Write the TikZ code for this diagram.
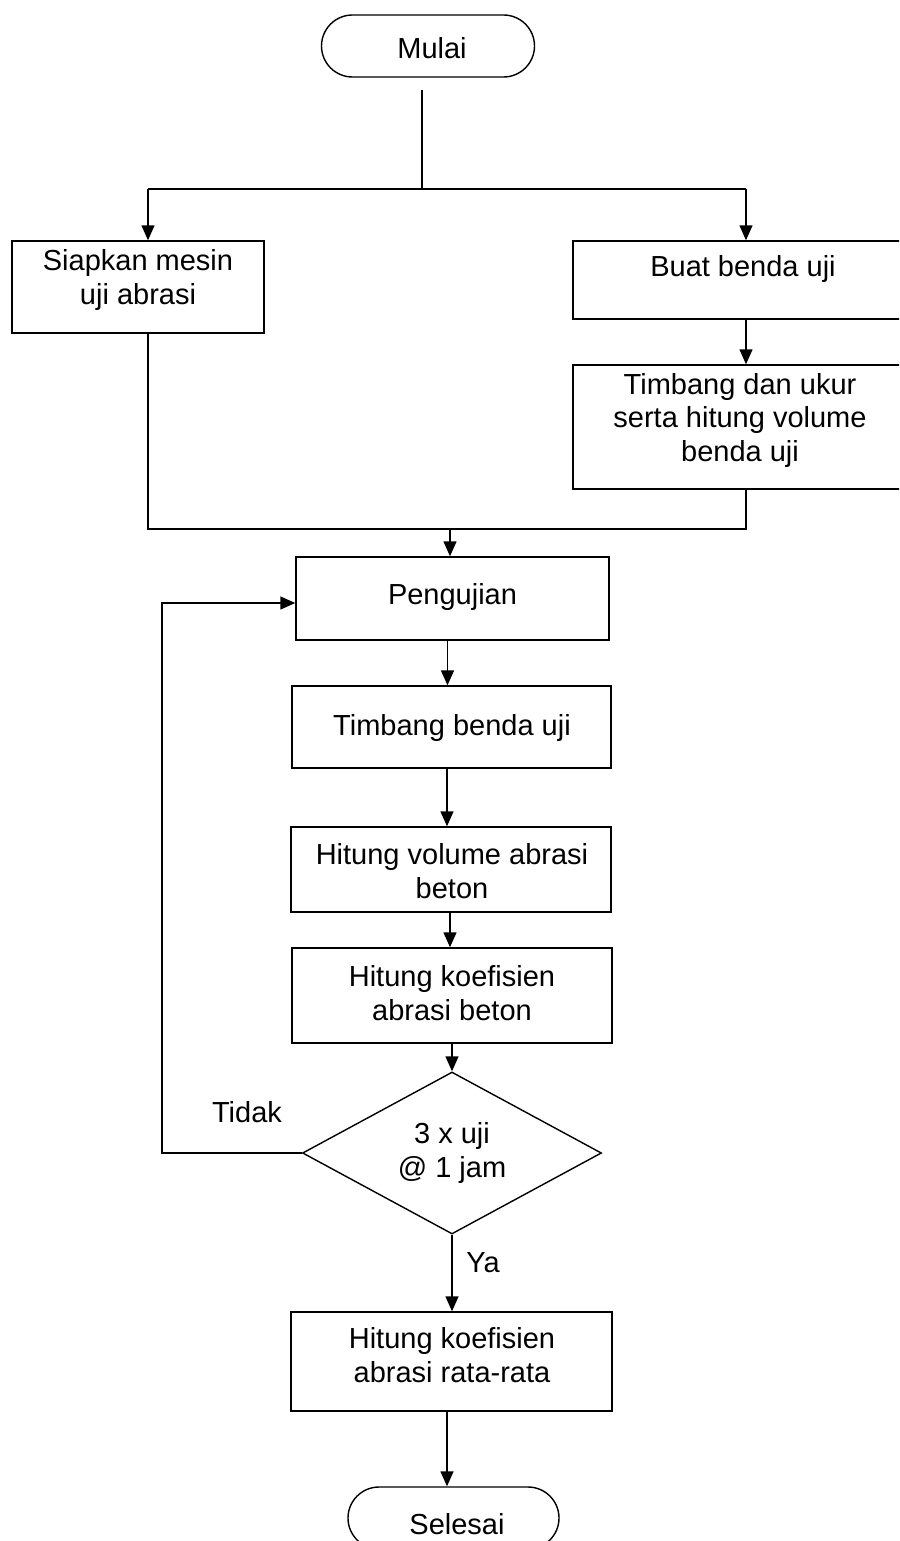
\documentclass[tikz,border=0pt]{standalone}
\usepackage{fontspec}
\setmainfont{Liberation Sans}
\usetikzlibrary{arrows.meta,shapes.geometric,calc}
\begin{document}
\begin{tikzpicture}[x=1pt,y=-1pt,
  font=\fontsize{29}{33.5}\selectfont,
  line width=1.4pt,
  boxshape/.style={draw, rectangle, inner sep=0pt},
  term/.style={draw, rectangle, rounded corners=31pt, minimum width=213pt, minimum height=62pt, inner sep=0pt},
  txt/.style={align=center, inner sep=0pt},
  decision/.style={draw, diamond, aspect=1.85, minimum width=299pt, minimum height=162pt, inner sep=0pt, align=center},
  arr/.style={-{Triangle[length=15pt,width=13pt]}},
  lbl/.style={inner sep=0pt}
]
\useasboundingbox (0,0) rectangle (899,1541);
\clip (0,0) rectangle (899,1541);

% terminals
\node[term] (mulai) at (428,46) {};
\node[txt] (mulait) at (432,48) {Mulai};
\node[term, minimum width=211pt] (selesai) at (453.5,1518) {};
\node[txt] (selesait) at (457,1524) {Selesai};

% boxes
\node[boxshape, minimum width=252pt, minimum height=92pt] (siap) at (138,287) {};
\node[txt] (siapt) at (138,280) {Siapkan mesin\\uji abrasi};

\node[boxshape, minimum width=340pt, minimum height=78pt] (buat) at (743,280) {};
\node[txt] (buatt) at (743,269) {Buat benda uji};

\node[boxshape, minimum width=340pt, minimum height=124pt] (timb1) at (743,427) {};
\node[txt] (timb1t) at (740,420) {Timbang dan ukur\\serta hitung volume\\benda uji};

\node[boxshape, minimum width=313pt, minimum height=83pt] (peng) at (452.5,598.5) {};
\node[txt] (pengt) at (452.5,597) {Pengujian};

\node[boxshape, minimum width=319pt, minimum height=82pt] (timb2) at (451.5,727) {};
\node[txt] (timb2t) at (452,728) {Timbang benda uji};

\node[boxshape, minimum width=320pt, minimum height=85pt] (hvol) at (451,869.5) {};
\node[txt] (hvolt) at (452,871) {Hitung volume abrasi\\beton};

\node[boxshape, minimum width=320pt, minimum height=95pt] (hkoef) at (452,995.5) {};
\node[txt] (hkoeft) at (452,993) {Hitung koefisien\\abrasi beton};

\node[decision] (dia) at (452,1153) {3 x uji\\@ 1 jam};

\node[boxshape, minimum width=321pt, minimum height=99pt] (final) at (451.5,1361.5) {};
\node[txt] (finalt) at (452,1355) {Hitung koefisien\\abrasi rata-rata};

% labels
\node[lbl] (tidak) at (247,1112) {Tidak};
\node[lbl] (ya) at (483,1263) {Ya};

% junctions
\coordinate (j1) at (422,189);
\coordinate (jl) at (148,189);
\coordinate (jr) at (746,189);
\coordinate (jm) at (450,529);
\coordinate (lp) at (162,1153);

% connectors
\draw ([xshift=-6pt,yshift=-12pt]mulai.south) -- (j1);
\draw (jl) -- (jr);
\draw[arr] (jl) -- (jl |- siap.north);
\draw[arr] (jr) -- (jr |- buat.north);
\draw[arr] (jr |- buat.south) -- (jr |- timb1.north);
\draw (jl |- siap.south) |- (jr |- jm) -- (jr |- timb1.south);
\draw[arr] (jm) -- (jm |- peng.north);
\draw[arr] ([xshift=-5pt]peng.south) -- ([xshift=-5pt]peng.south |- timb2.north);
\draw[arr] ([xshift=-4.5pt]timb2.south) -- ([xshift=-4.5pt]timb2.south |- hvol.north);
\draw[arr] ([xshift=-1pt]hvol.south) -- ([xshift=-1pt]hvol.south |- hkoef.north);
\draw[arr] (hkoef.south) -- (dia.north);
\draw[arr] (dia.south) -- (dia.south |- final.north);
\draw[arr] ([xshift=-4.5pt]final.south) -- ([xshift=-4.5pt]final.south |- selesai.north);
\draw[arr] (dia.west) -- (lp) |- ([yshift=-4.5pt]peng.west);
\end{tikzpicture}
\end{document}
